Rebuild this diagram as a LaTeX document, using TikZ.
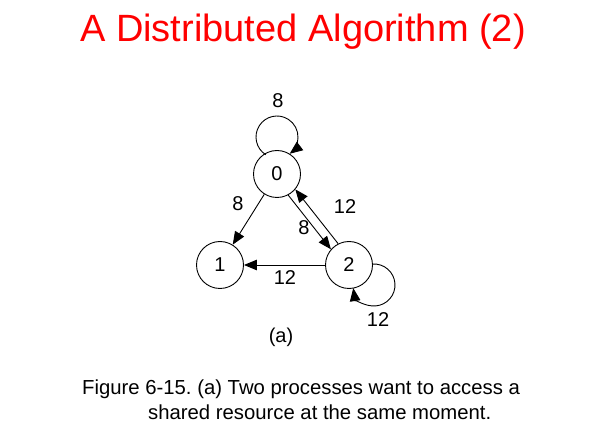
\documentclass[tikz,border=0pt]{standalone}
\usepackage{fontspec}
\setmainfont{Liberation Sans}
\usetikzlibrary{arrows.meta,calc}
\frenchspacing
\begin{document}
\begin{tikzpicture}[x=1pt,y=1pt,
  proc/.style={circle,draw,line width=0.9pt,minimum size=47pt,inner sep=0pt,font=\fontsize{20}{23}\selectfont},
  arr/.style={line width=0.9pt,-{Triangle[length=13pt,width=10.5pt]}},
  lbl/.style={inner sep=0pt,font=\fontsize{20}{23}\selectfont}]
\useasboundingbox (0,0) rectangle (600,426);
% title
\node[anchor=base,inner sep=0pt,text=red,font=\fontsize{38}{44}\selectfont] (title) at (303,384) {A Distributed Algorithm (2)};
% processes
\node[proc] (n0) at (277,252) {0};
\node[proc] (n1) at (220,161) {1};
\node[proc] (n2) at (349,161) {2};
% self loops
\coordinate (c0) at (277,289);
\coordinate (c2) at (374,141);
\draw[arr] ($(c0)+(237.6:21)$) arc[start angle=237.6,end angle=-53,radius=21];
\draw[arr] ($(c2)+(94.4:21)$) arc[start angle=94.4,end angle=-171.5,radius=21];
% edges
\draw[arr] (n0) -- (n1);
\draw[arr] (n0.-62.3) -- (n2.139.7);
\draw[arr] (n2.117.7) -- (n0.-40.3);
\draw[arr] (n2) -- (n1);
% labels
\node[lbl] (l00) at (278,325) {8};
\node[lbl] (l01) at (238,222) {8};
\node[lbl] (l02) at (304,198) {8};
\node[lbl] (l20) at (345,219) {12};
\node[lbl] (l21) at (285,148) {12};
\node[lbl] (l22) at (378,106) {12};
\node[lbl] (cap) at (281,89) {(a)};
% caption
\node[anchor=base west,inner sep=0pt,font=\fontsize{20.3}{24}\selectfont] (c1) at (82,31) {Figure 6-15. (a) Two processes want to access a};
\node[anchor=base west,inner sep=0pt,font=\fontsize{20.3}{24}\selectfont] (c2t) at (148,7) {shared resource at the same moment.};
\end{tikzpicture}
\end{document}
